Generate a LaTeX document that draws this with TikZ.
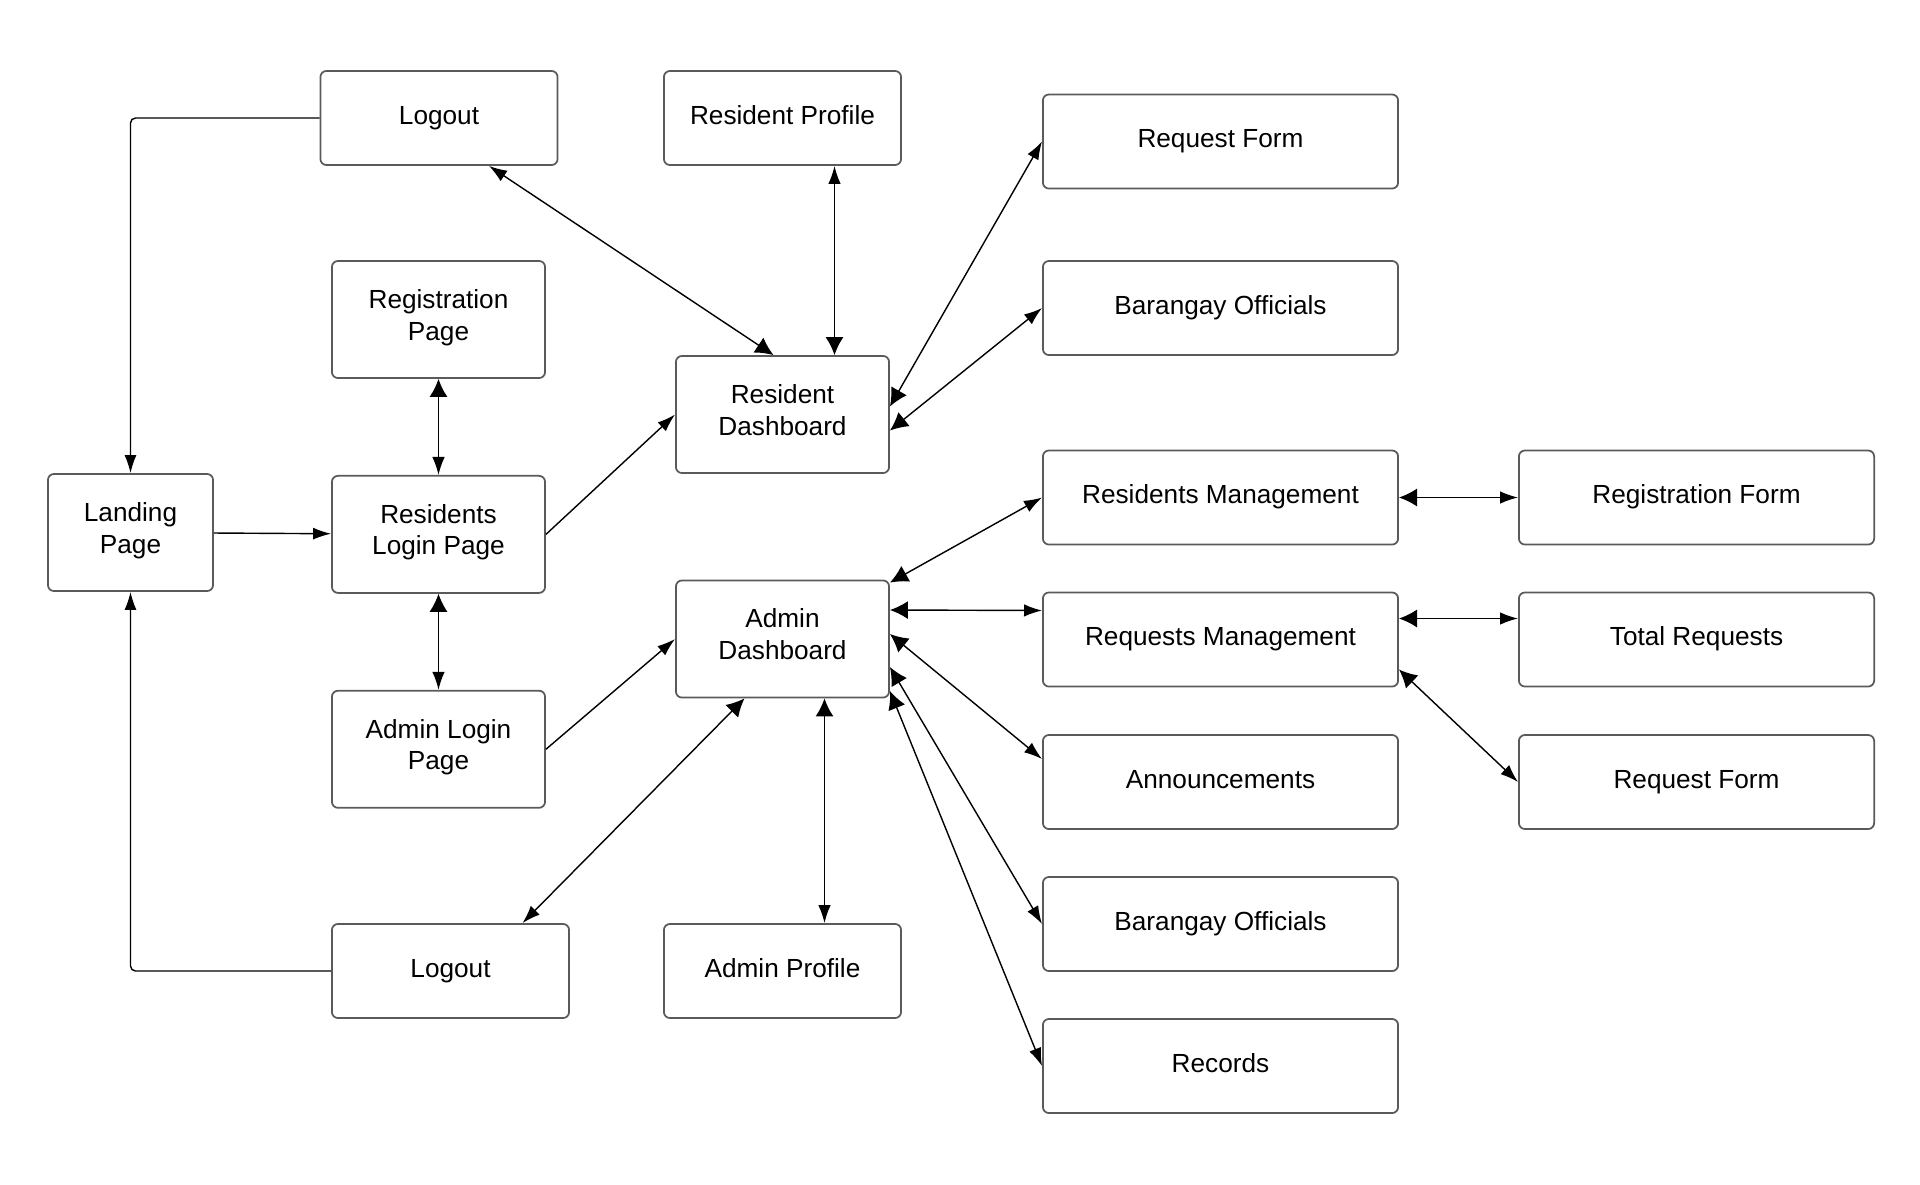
\documentclass[tikz,border=0pt]{standalone}
\usepackage{fontspec}
\setmainfont{Liberation Sans}
\usepackage{tikz}
\usetikzlibrary{arrows.meta,positioning,calc}
\definecolor{boxline}{RGB}{90,90,90}

\begin{document}
\begin{tikzpicture}[
    x=0.01cm, y=-0.01cm,
    page/.style={rectangle, draw=boxline, line width=0.5pt, rounded corners=0.06cm, align=center, minimum width=2.13cm, minimum height=1.17cm, inner sep=0pt, font=\fontsize{7.45pt}{9pt}\selectfont, execute at begin node=\strut, execute at end node=\strut},
    small/.style={page, minimum width=2.37cm, minimum height=0.94cm},
    wide/.style={page, minimum width=3.55cm, minimum height=0.94cm},
    arrow/.style={-{Latex[length=1.8mm,width=1.2mm]}, line width=0.4pt},
    twoway/.style={{Latex[length=1.8mm,width=1.8mm]}-{Latex[length=1.8mm,width=1.25mm]}, line width=0.4pt}
]
\useasboundingbox (0,0) rectangle (1920,1184);

% Entry
\node[page, minimum width=1.65cm] (landing) at (130.5,532.5) {Landing\\Page};

% Login pages
\node[page] (regpage) at (438.5,319.5) {Registration\\Page};
\node[page, below=0.96cm of regpage] (reslogin) {Residents\\Login Page};
\node[page, below=0.96cm of reslogin] (admlogin) {Admin Login\\Page};

% Logouts
\node[small] (logoutA) at (439,118) {Logout};
\node[small] (logoutB) at (450.5,971) {Logout};

% Dashboards
\node[page] (resdash) at (782.5,414.5) {Resident\\Dashboard};
\node[page] (admdash) at (782.5,639) {Admin\\Dashboard};

% Profiles
\node[small] (resprofile) at (782.5,118) {Resident Profile};
\node[small] (admprofile) at (782.5,971) {Admin Profile};

% Resident side
\node[wide] (reqformA) at (1220.5,141.5) {Request Form};
\node[wide] (offA) at (1220.5,308) {Barangay Officials};

% Admin side
\node[wide] (resmgmt) at (1220.5,497.5) {Residents Management};
\node[wide] (reqmgmt) at (1220.5,639.5) {Requests Management};
\node[wide] (announce) at (1220.5,782) {Announcements};
\node[wide] (offB) at (1220.5,924) {Barangay Officials};
\node[wide] (records) at (1220.5,1066) {Records};

% Management details
\node[wide, right=1.19cm of resmgmt] (regform) {Registration Form};
\node[wide, right=1.19cm of reqmgmt] (totreq) {Total Requests};
\node[wide, right=1.19cm of announce] (reqformB) {Request Form};

% Arrows
\draw[arrow, rounded corners=0.05cm] (logoutA.west) -| (landing.north);
\draw[arrow, rounded corners=0.05cm] (logoutB.west) -| (landing.south);
\draw[arrow] (landing) -- (reslogin);
\draw[twoway] (regpage) -- (reslogin);
\draw[twoway] (reslogin) -- (admlogin);
\draw[arrow] (reslogin.east) -- (resdash.west);
\draw[arrow] (admlogin.east) -- (admdash.west);

\draw[twoway] ($(resdash.north)+(-9,0)$) -- ($(logoutA.south)+(50,0)$);
\draw[twoway] ($(resdash.north)+(52,0)$) -- ($(resprofile.south)+(52,0)$);
\draw[twoway] ($(resdash.east)+(0,-8)$) -- (reqformA.west);
\draw[twoway] ($(resdash.east)+(0,16)$) -- (offA.west);

\draw[twoway] ($(admdash.north east)+(0,3)$) -- (resmgmt.west);
\draw[twoway] ($(admdash.east)+(0,-29)$) -- ($(reqmgmt.west)+(0,-29)$);
\draw[twoway] ($(admdash.east)+(0,-5)$) -- ($(announce.west)+(0,-23)$);
\draw[twoway] ($(admdash.east)+(0,28)$) -- (offB.west);
\draw[twoway] ($(admdash.east)+(0,52)$) -- (records.west);
\draw[twoway] ($(admdash.south)+(-38,0)$) -- ($(logoutB.north)+(72,0)$);
\draw[twoway] ($(admdash.south)+(42,0)$) -- ($(admprofile.north)+(42,0)$);

\draw[twoway] (resmgmt) -- (regform);
\draw[twoway] ($(reqmgmt.east)+(0,-21)$) -- ($(totreq.west)+(0,-21)$);
\draw[twoway] ($(reqmgmt.east)+(0,30)$) -- (reqformB.west);

\end{tikzpicture}
\end{document}
